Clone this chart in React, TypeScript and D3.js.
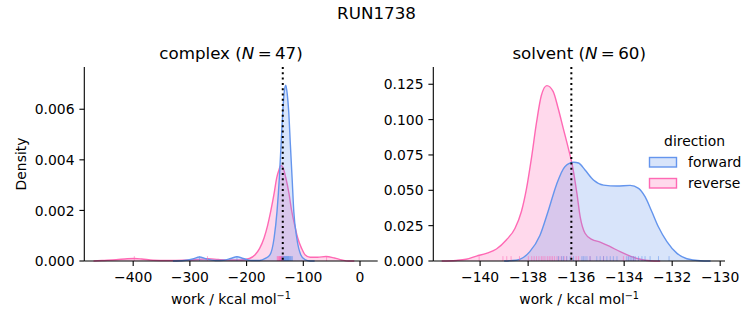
import React from 'react';
import * as d3 from 'd3';

const W = 753;
const H = 325;
const FONT = '"DejaVu Sans", Verdana, sans-serif';
const BLUE = '#6495ED';
const PINK = '#FF69B4';

// ---- data (work value, density) ----
const complexForward: [number, number][] = [
  [-330, 0], [-310, 0.00002], [-295, 0.00008], [-283, 0.00016], [-272, 0.00009],
  [-255, 0.00002], [-240, 0.00003], [-228, 0.0001], [-217, 0.00017], [-206, 0.0001],
  [-192, 0.00002], [-177, 0.00002], [-167, 0.0001], [-158.6, 0.00025], [-151.5, 0.00091],
  [-146.3, 0.00197], [-142.2, 0.0033], [-139.2, 0.0046], [-136.2, 0.0059], [-133.5, 0.0067],
  [-130.9, 0.00695], [-128.3, 0.0066], [-125.7, 0.0059], [-122.8, 0.0046], [-119.8, 0.0033],
  [-116.8, 0.00197], [-111.5, 0.00091], [-104.5, 0.00025], [-97, 0.00005], [-88, 0], [-80, 0],
];
const complexReverse: [number, number][] = [
  [-470, 0], [-455, 0.00002], [-430, 0.00005], [-410, 0.00009], [-398, 0.0001],
  [-385, 0.00008], [-365, 0.00003], [-340, 0.00002], [-310, 0.00003], [-285, 0.00006],
  [-268, 0.00009], [-250, 0.00006], [-230, 0.00004], [-210, 0.00004], [-195, 0.0001],
  [-185, 0.00025], [-177, 0.0005], [-169.2, 0.00091], [-163, 0.0014], [-157.4, 0.00197],
  [-152, 0.0026], [-146.8, 0.0033], [-143, 0.0036], [-139.8, 0.00378], [-136, 0.0037],
  [-131, 0.0033], [-125.5, 0.0027], [-120.4, 0.00197], [-115, 0.0014], [-109.8, 0.00091],
  [-103, 0.0005], [-97, 0.00025], [-88, 0.00015], [-75, 0.00015], [-60, 0.00018],
  [-45, 0.00012], [-32, 0.00004], [-20, 0], [-10, 0],
];
const solventForward: [number, number][] = [
  [-139.0, 0], [-138.5, 0.0005], [-138.2, 0.0025], [-137.93, 0.0066], [-137.51, 0.018],
  [-137.17, 0.035], [-136.82, 0.054], [-136.47, 0.0667], [-136.1, 0.0698], [-135.9, 0.0693],
  [-135.63, 0.0643], [-135.28, 0.0573], [-134.86, 0.0537], [-134.3, 0.053], [-133.75, 0.0535],
  [-133.4, 0.0514], [-133.13, 0.0455], [-132.85, 0.035], [-132.57, 0.024], [-132.22, 0.0137],
  [-131.8, 0.0054], [-131.39, 0.0016], [-130.83, 0.0002], [-130.4, 0],
];
const solventReverse: [number, number][] = [
  [-141.6, 0], [-141.0, 0.0004], [-140.58, 0.0012], [-140.15, 0.0035], [-139.74, 0.0054],
  [-139.32, 0.0085], [-138.9, 0.015], [-138.55, 0.023], [-138.28, 0.035], [-138.07, 0.051],
  [-137.86, 0.073], [-137.65, 0.098], [-137.45, 0.117], [-137.22, 0.124], [-136.96, 0.12],
  [-136.75, 0.108], [-136.54, 0.094], [-136.33, 0.08], [-136.15, 0.067], [-135.97, 0.048],
  [-135.83, 0.031], [-135.63, 0.0196], [-135.35, 0.0153], [-135.0, 0.0134], [-134.58, 0.0101],
  [-134.17, 0.0066], [-133.75, 0.0035], [-133.33, 0.0012], [-132.9, 0.0002], [-132.5, 0],
];

// ---- rug samples ----
const complexForwardRug = [
  -283, -217, -138, -136, -135, -134, -133, -132.5, -132, -131, -130.5, -130, -129, -128.5,
  -128, -127, -126.5, -126, -125, -124, -123, -122, -121, -119,
];
const complexReverseRug = [
  -398, -269, -59, -146, -145, -144, -143, -142, -141.5, -141, -140.5, -140, -139.5, -139,
  -138.5, -138, -137.5, -137, -136.5, -136, -135.5, -135, -134,
];
const solventForwardRug = [
  -136.74, -136.6, -136.53, -136.39, -136.25, -136.11, -135.76, -135.7, -135.63, -135.55,
  -135.42, -135.14, -135.0, -134.86, -134.72, -134.58, -134.45, -134.3, -133.89, -133.82,
  -133.75, -133.68, -133.61, -133.54, -133.4, -133.26, -133.13, -132.92, -132.57, -132.13,
];
const solventReverseRug = [
  -140.04, -139.05, -138.89, -138.71, -138.36, -137.99, -137.85, -137.75, -137.65, -137.55,
  -137.45, -137.38, -137.3, -137.2, -137.12, -137.05, -136.98, -136.9, -136.8, -136.72,
  -136.62, -136.5, -136.4, -136.2, -136.0, -135.9, -135.42, -134.86, -134.03, -133.6,
];

const complexXTicks = [-400, -300, -200, -100, 0];
const complexYTicks = [0, 0.002, 0.004, 0.006];
const solventXTicks = [-140, -138, -136, -134, -132, -130];
const solventYTicks = [0, 0.025, 0.05, 0.075, 0.1, 0.125];
const estimate = -136.2;
const directions = ['forward', 'reverse'];

const TICK_FS = 13.9;
const TITLE_FS = 16.7;

interface PanelProps {
  left: number;
  right: number;
  top: number;
  bottom: number;
  xDomain: [number, number];
  yDomain: [number, number];
  xTicks: number[];
  yTicks: number[];
  title: string;
  n: number;
  forward: [number, number][];
  reverse: [number, number][];
  forwardRug: number[];
  reverseRug: number[];
  yLabel: boolean;
}

function Panel(p: PanelProps) {
  const x = d3.scaleLinear().domain(p.xDomain).range([p.left, p.right]);
  const y = d3.scaleLinear().domain(p.yDomain).range([p.bottom, p.top]);
  const area = d3
    .area<[number, number]>()
    .x((d) => x(d[0]))
    .y0(y(0))
    .y1((d) => y(d[1]))
    .curve(d3.curveMonotoneX);
  const line = d3
    .line<[number, number]>()
    .x((d) => x(d[0]))
    .y((d) => y(d[1]))
    .curve(d3.curveMonotoneX);
  const fmtY = d3.format('.3f');
  const fmtX = d3.format('d');
  const rugH = (p.bottom - p.top) * 0.025;
  const cx = (p.left + p.right) / 2;
  const series = [
    { data: p.reverse, color: PINK, rug: p.reverseRug },
    { data: p.forward, color: BLUE, rug: p.forwardRug },
  ];
  return (
    <g>
      {series.map((s, i) => (
        <g key={'c' + i}>
          <path d={area(s.data) || ''} fill={s.color} fillOpacity={0.25} stroke="none" />
          <path d={line(s.data) || ''} fill="none" stroke={s.color} strokeWidth={1.4} />
        </g>
      ))}
      {series.map((s, i) => (
        <g key={'r' + i}>
          {s.rug.map((v, j) => (
            <line
              key={j}
              x1={x(v)}
              x2={x(v)}
              y1={p.bottom}
              y2={p.bottom - rugH}
              stroke={s.color}
              strokeOpacity={0.55}
              strokeWidth={1}
            />
          ))}
        </g>
      ))}
      <line
        x1={x(estimate)}
        x2={x(estimate)}
        y1={p.top}
        y2={p.bottom}
        stroke="#000"
        strokeWidth={2}
        strokeDasharray="2,3.3"
      />
      {/* spines */}
      <line x1={p.left} x2={p.left} y1={p.top} y2={p.bottom} stroke="#000" strokeWidth={1.1} />
      <line x1={p.left} x2={p.right} y1={p.bottom} y2={p.bottom} stroke="#000" strokeWidth={1.1} />
      {p.xTicks.map((t) => (
        <g key={'xt' + t}>
          <line x1={x(t)} x2={x(t)} y1={p.bottom} y2={p.bottom + 4.9} stroke="#000" strokeWidth={1.1} />
          <text
            x={x(t)}
            y={p.bottom + 21}
            textAnchor="middle"
            fontFamily={FONT}
            fontSize={TICK_FS}
            fill="#000"
          >
            {fmtX(t)}
          </text>
        </g>
      ))}
      {p.yTicks.map((t) => (
        <g key={'yt' + t}>
          <line x1={p.left - 4.9} x2={p.left} y1={y(t)} y2={y(t)} stroke="#000" strokeWidth={1.1} />
          <text
            x={p.left - 9.8}
            y={y(t) + 5.1}
            textAnchor="end"
            fontFamily={FONT}
            fontSize={TICK_FS}
            fill="#000"
          >
            {fmtY(t)}
          </text>
        </g>
      ))}
      <text x={cx} y={p.bottom + 43} textAnchor="middle" fontFamily={FONT} fontSize={TICK_FS} fill="#000">
        work / kcal mol
        <tspan dy={-5.5} fontSize={9.7}>
          {'\u22121'}
        </tspan>
      </text>
      <text x={cx} y={p.top - 8} textAnchor="middle" fontFamily={FONT} fontSize={TITLE_FS} fill="#000">
        {p.title} (<tspan fontStyle="italic">N</tspan>
        {'\u2009=\u2009' + p.n})
      </text>
      {p.yLabel && (
        <text
          transform={`translate(${p.left - 58},${(p.top + p.bottom) / 2}) rotate(-90)`}
          textAnchor="middle"
          fontFamily={FONT}
          fontSize={TICK_FS}
          fill="#000"
        >
          Density
        </text>
      )}
    </g>
  );
}

export default function App() {
  const top = 67;
  const bottom = 261;
  const legendColors = [BLUE, PINK];
  return (
    <svg
      width={W}
      height={H}
      viewBox={`0 0 ${W} ${H}`}
      style={{ position: 'absolute', left: 0, top: 0, background: '#fff' }}
    >
      <rect x={0} y={0} width={W} height={H} fill="#fff" />
      <text x={W / 2} y={19} textAnchor="middle" fontFamily={FONT} fontSize={TITLE_FS} fill="#000">
        RUN1738
      </text>
      <Panel
        left={84.3}
        right={377.7}
        top={top}
        bottom={bottom}
        xDomain={[-486.2, 31.2]}
        yDomain={[0, 0.00767]}
        xTicks={complexXTicks}
        yTicks={complexYTicks}
        title="complex"
        n={47}
        forward={complexForward}
        reverse={complexReverse}
        forwardRug={complexForwardRug}
        reverseRug={complexReverseRug}
        yLabel={true}
      />
      <Panel
        left={433.3}
        right={725}
        top={top}
        bottom={bottom}
        xDomain={[-141.95, -129.8]}
        yDomain={[0, 0.1372]}
        xTicks={solventXTicks}
        yTicks={solventYTicks}
        title="solvent"
        n={60}
        forward={solventForward}
        reverse={solventReverse}
        forwardRug={solventForwardRug}
        reverseRug={solventReverseRug}
        yLabel={false}
      />
      <g>
        <text x={694.5} y={146} textAnchor="middle" fontFamily={FONT} fontSize={TICK_FS} fill="#000">
          direction
        </text>
        {directions.map((d, i) => (
          <g key={d}>
            <rect
              x={649.5}
              y={157.5 + i * 21}
              width={27}
              height={9.5}
              fill={legendColors[i]}
              fillOpacity={0.25}
              stroke={legendColors[i]}
              strokeWidth={1.4}
            />
            <text x={688} y={167 + i * 21} fontFamily={FONT} fontSize={TICK_FS} fill="#000">
              {d}
            </text>
          </g>
        ))}
      </g>
    </svg>
  );
}
